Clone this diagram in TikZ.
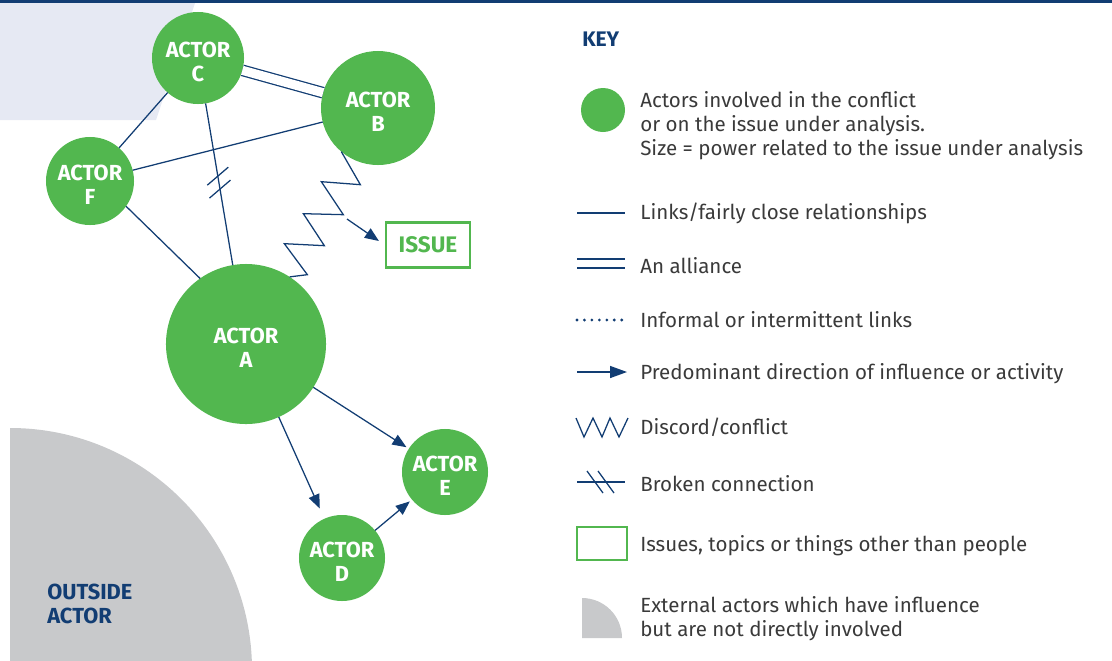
\documentclass[tikz,border=0pt]{standalone}
\usepackage{fontspec}
\setmainfont{Fira Sans}
\usetikzlibrary{arrows.meta,calc}
\definecolor{actorGreen}{HTML}{52B74F}
\definecolor{keyNavy}{HTML}{123D73}
\definecolor{paleBlue}{HTML}{E6E9F3}
\definecolor{outsideGrey}{HTML}{C8C9CB}
\definecolor{keyText}{HTML}{3A3A3A}
\tikzset{
	actor/.style={circle, fill=actorGreen, text=white, align=center, inner sep=0pt, outer sep=0pt, font=\bfseries\fontsize{15.5}{17}\selectfont, text height=33pt},
	link/.style={draw=keyNavy, line width=0.9pt},
	flow/.style={link, -{Triangle[length=10pt,width=8pt]}, shorten >=2pt},
	keyLabel/.style={anchor=west, align=left, inner sep=0pt, text=keyText, font=\fontsize{14.6}{17}\selectfont}
}
\begin{document}
\begin{tikzpicture}[x=0.025cm, y=-0.025cm]
	\useasboundingbox (0,0) rectangle (1112,660);

	\fill[keyNavy] (0,0) rectangle (1112,3);
	\fill[paleBlue] (0,3) -- (195,3) -- (156,120) -- (0,120) -- cycle;
	\fill[outsideGrey] (10,670) -- (10,428) arc[start angle=-90, end angle=0, radius=242] -- cycle;
	\node[anchor=west, align=left, inner sep=0pt, text=keyNavy, font=\bfseries\fontsize{15.5}{17}\selectfont](outsideLabel) at (47,604){OUTSIDE\\ACTOR};

	\node[actor, minimum size=2.3cm](actorC) at (198,58){ACTOR\\C};
	\node[actor, minimum size=2.85cm](actorB) at (378,108){ACTOR\\B};
	\node[actor, minimum size=2.2cm](actorF) at (90,181){ACTOR\\F};
	\node[actor, minimum size=4cm](actorA) at (246,344){ACTOR\\A};
	\node[actor, minimum size=2.15cm](actorE) at (445,472){ACTOR\\E};
	\node[actor, minimum size=2.15cm](actorD) at (342,558){ACTOR\\D};
	\node[rectangle, draw=actorGreen, line width=1.8pt, minimum width=2.1cm, minimum height=1.12cm, text=actorGreen, font=\bfseries\fontsize{16}{17}\selectfont](issue) at (428,245){ISSUE};

	\draw[link, double, double distance=6.5pt](actorC) -- (actorB);
	\draw[link](actorC) -- (actorF);
	\draw[link](actorF) -- (actorB);
	\draw[link](actorF.-35) -- (actorA.125);
	\draw[link](actorC) -- (actorA);
	\path (actorC) -- (actorA) coordinate[pos=0.45](brokenOne) coordinate[pos=0.53](brokenTwo);
	\draw[link]($(brokenOne)+(-10.5,9)$) -- ++(21,-18);
	\draw[link]($(brokenTwo)+(-10.5,9)$) -- ++(21,-18);

	% discord between B and A
	\draw[link, line join=miter](actorB.230) -- ++(19,33) -- ++(-39,-3) -- ++(22,33) -- ++(-40,-1) -- ++(21,32) -- ++(-40,-2) -- ++(23,31) -- (actorA.57);
	\coordinate(clash) at (347,219);
	\draw[flow, shorten >=5pt](clash) -- (issue.west);

	\draw[flow](actorA) -- (actorE);
	\draw[flow, shorten >=8pt](actorA) -- (actorD);
	\draw[flow](actorD) -- (actorE);

	% key
	\node[anchor=west, inner sep=0pt, text=keyNavy, font=\bfseries\fontsize{15}{17}\selectfont](keyTitle) at (582,39){KEY};

	\node[actor, text height=0pt, minimum size=1.1cm](keyActor) at (603,110){};
	\node[keyLabel](keyActorTxt) at (640,126){Actors involved in the conflict\\or on the issue under analysis.\\Size = power related to the issue under analysis};

	\draw[link](577,213) -- (625,213);
	\node[keyLabel](keyLinkTxt) at (640,213){Links/fairly close relationships};

	\draw[link](577,259) -- (625,259);
	\draw[link](577,268) -- (625,268);
	\node[keyLabel](keyAllyTxt) at (640,266){An alliance};

	\draw[keyNavy, line width=2.2pt, line cap=round, dash pattern=on 0pt off 5.3pt](577,320) -- (627,320);
	\node[keyLabel](keyInformalTxt) at (640,320){Informal or intermittent links};

	\draw[link, -{Triangle[length=12pt,width=8.5pt]}](577,372) -- (627,372);
	\node[keyLabel](keyFlowTxt) at (640,374){Predominant direction of influence or activity};

	\draw[link](576,418) -- (584,437) -- (593,418) -- (602,437) -- (610,418) -- (619,437) -- (628,418);
	\node[keyLabel](keyDiscordTxt) at (640,427){Discord/conflict};

	\draw[link](577,482) -- (625,482);
	\draw[link](587,471) -- (603,493);
	\draw[link](598,471) -- (614,493);
	\node[keyLabel](keyBrokenTxt) at (640,484){Broken connection};

	\draw[draw=actorGreen, line width=1.8pt](577,527) rectangle (627,560);
	\node[keyLabel](keyIssueTxt) at (640,546){Issues, topics or things other than people};

	\fill[outsideGrey](582,638) -- (582,598) arc[start angle=-90, end angle=0, radius=40] -- cycle;
	\node[keyLabel](keyOutsideTxt) at (640,619){External actors which have influence\\but are not directly involved};
\end{tikzpicture}
\end{document}
